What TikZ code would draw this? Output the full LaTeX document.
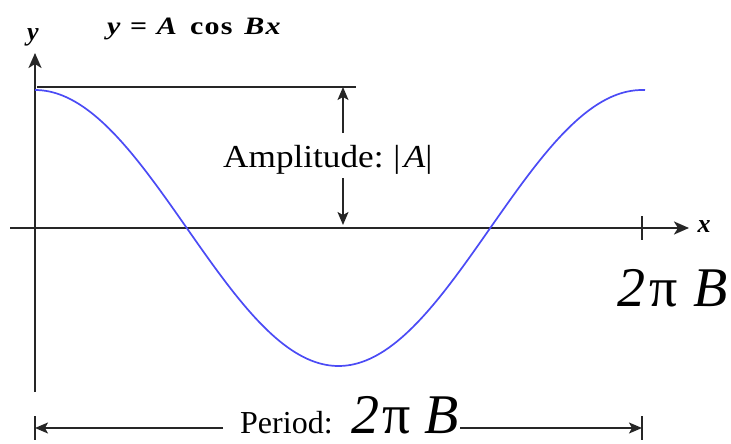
\documentclass[tikz,border=0pt]{standalone}
\usepackage{fontspec}
\setmainfont{Liberation Serif}
\usetikzlibrary{arrows.meta}
\definecolor{curveblue}{RGB}{75,75,245}
\tikzset{
  axis/.style={line width=2.4pt, draw=black!85, -{Stealth[length=15pt,width=13pt,inset=4pt]}},
  thin line/.style={line width=2pt, draw=black!85},
  dimarrow/.style={line width=1.6pt, draw=black!85, -{Stealth[length=13pt,width=11pt,inset=3pt]}},
  curve/.style={line width=1.7pt, draw=curveblue},
  lbl/.style={inner sep=0pt, anchor=base west},
}
\begin{document}
\begin{tikzpicture}[x=1pt,y=-1pt]
\useasboundingbox (0,0) rectangle (731,444);
% coordinates
\coordinate (o) at (35,228);
\coordinate (ybot) at (35,392);
\coordinate (ytop) at (35,53);
\coordinate (xl) at (10,228);
\coordinate (xr) at (689,228);
\coordinate (tickT) at (642,216);
\coordinate (tickB) at (642,240);
\coordinate (topL) at (37,87);
\coordinate (topR) at (356,87);
\coordinate (ampTop) at (343,87);
\coordinate (ampA) at (343,133);
\coordinate (ampB) at (343,178);
\coordinate (ampBot) at (343,225);
\coordinate (pL) at (35,428);
\coordinate (pLend) at (223,428);
\coordinate (pRstart) at (460,428);
\coordinate (pR) at (642,428);
\coordinate (barLT) at (35,416);
\coordinate (barLB) at (35,440);
\coordinate (barRT) at (642,416);
\coordinate (barRB) at (642,440);
% axes
\draw[axis] (ybot) -- (ytop);
\draw[axis] (xl) -- (xr);
\draw[thin line] (tickT) -- (tickB);
% top reference line
\draw[thin line] (topL) -- (topR);
% curve
\draw[curve] plot[domain=35:645, samples=200] (\x, {228-138*cos((\x-35)/607*360)});
% amplitude arrows
\draw[dimarrow] (ampA) -- (ampTop);
\draw[dimarrow] (ampB) -- (ampBot);
\node[lbl] (amp) at (223,167) {\fontsize{32}{34}\selectfont\scalebox{1.1}[1]{Amplitude:\hspace{9pt}|\hspace{3pt}\textit{A}|}};
% labels
\node[inner sep=0pt] (ylab) at (33,37) {\fontsize{26}{28}\selectfont\textbf{\textit{y}}};
\node[inner sep=0pt] (xlab) at (704,227) {\fontsize{26}{28}\selectfont\textbf{\textit{x}}};
\node[lbl] (title) at (107,35) {\fontsize{25}{27}\selectfont\scalebox{1.2}[1]{\textbf{\textit{y}\hspace{8pt}=\hspace{8pt}\textit{A}\hspace{11pt}c\hspace{1pt}o\hspace{1pt}s\hspace{10pt}\textit{B}\hspace{1pt}\textit{x}}}};
\node[lbl] (rlab) at (617,306) {\fontsize{56}{60}\selectfont\textit{2}\hspace{4pt}π\hspace{16pt}\textit{B}};
% period
\draw[thin line] (barLT) -- (barLB);
\draw[thin line] (barRT) -- (barRB);
\draw[dimarrow] (pLend) -- (pL);
\draw[dimarrow] (pRstart) -- (pR);
\node[lbl] (per) at (240,433) {\fontsize{32}{34}\selectfont Period:};
\node[lbl] (per2) at (351,433) {\fontsize{56}{60}\selectfont\textit{2}\hspace{3pt}π\hspace{14pt}\textit{B}};
\end{tikzpicture}
\end{document}
